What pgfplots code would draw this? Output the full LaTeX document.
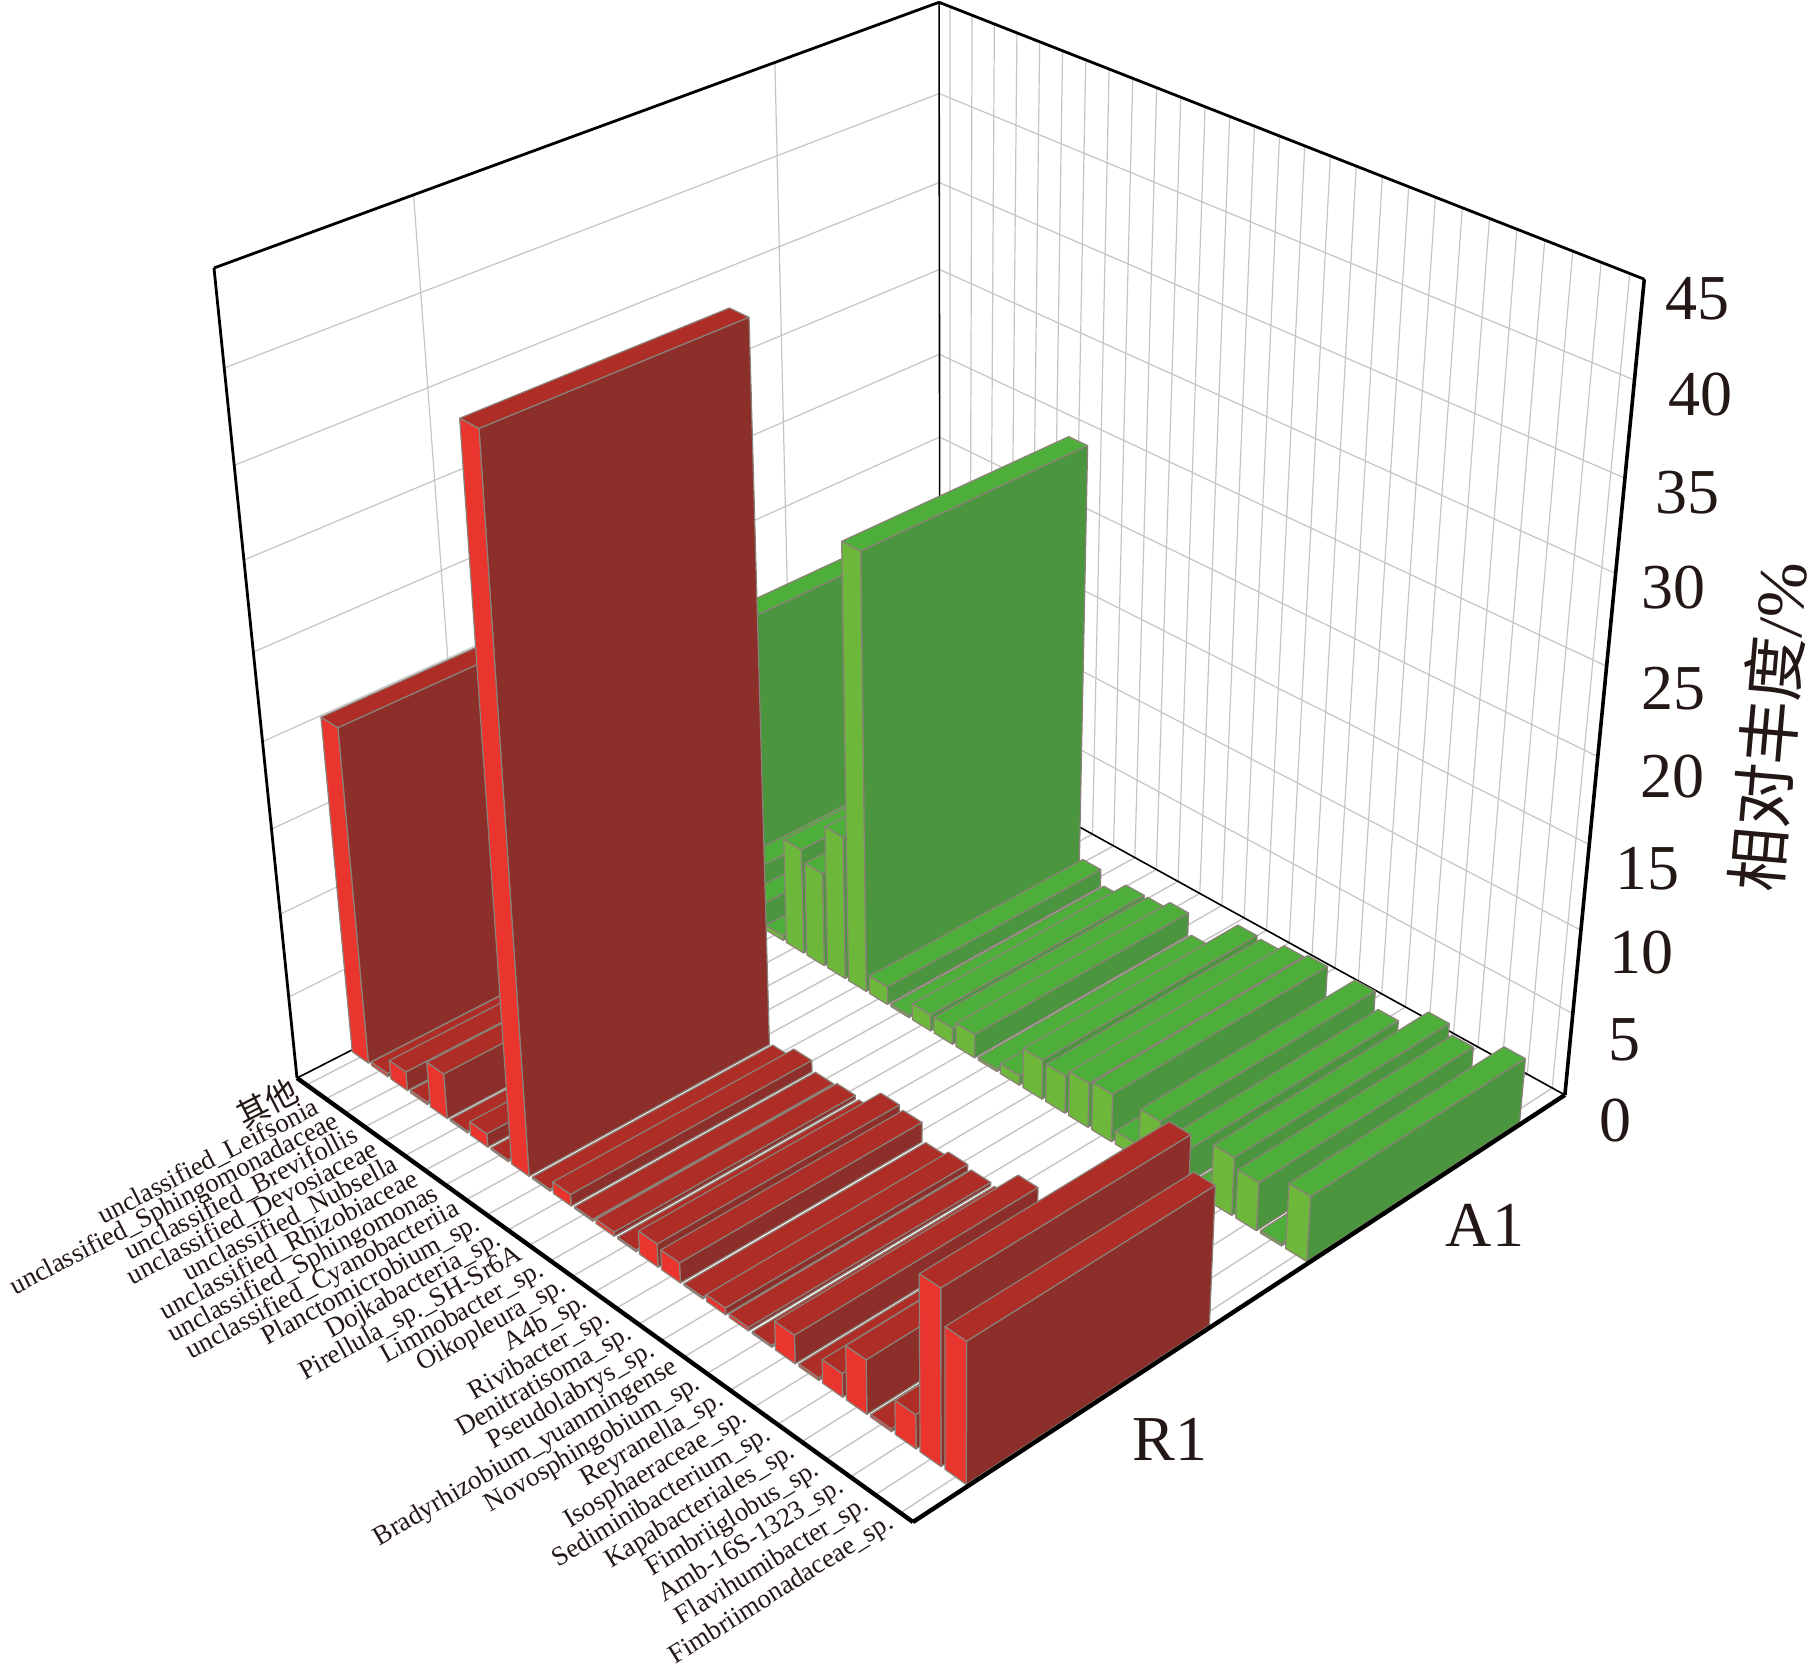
\documentclass[border=0pt]{standalone}
\usepackage{pgfplots}
\usepackage{pgfplotstable}
\usepackage{fontspec}
\pgfplotsset{compat=1.18}
\setmainfont{Liberation Serif}
\newfontfamily\cjk{Noto Sans CJK SC}
\definecolor{rf}{HTML}{EA352E}\definecolor{rs}{HTML}{8C2F2A}\definecolor{rt}{HTML}{AE2E27}
\definecolor{gf}{HTML}{6DB83B}\definecolor{gs}{HTML}{4A953E}\definecolor{gt}{HTML}{4EAE3A}
\definecolor{edgec}{HTML}{8B8178}\definecolor{gridc}{HTML}{C9C4C4}\definecolor{ink}{HTML}{231815}
% relative abundance (%) of each category in the two samples
\pgfplotstableread{
idx r1 a1
1 20.0 15.4
2 0.2 0.8
3 1.15 2.5
4 0.15 1.5
5 2.75 0.3
6 0.1 6.5
7 0.82 5.8
8 0.1 8.8
9 41.1 26.2
10 0.1 1.1
11 0.7 0.15
12 0.1 1.0
13 0.25 1.0
14 0.1 1.45
15 1.4 0.15
16 1.2 0.6
17 0.1 2.4
18 0.4 2.3
19 0.2 2.7
20 0.1 2.9
21 1.7 0.8
22 0.15 3.0
23 1.4 2.0
24 3.2 0.15
25 0.15 3.5
26 2.0 2.9
27 10.2 0.15
28 8.2 3.9
}\datatable
% perspective: u along categories (0..1), v along samples (0..1), value 0..45
\newcommand\proj[3]{%
 \pgfmathsetmacro\zf{(#3)/45}%
 \pgfmathsetmacro\ww{1-0.13212*(#1)+0.12344*(#2)-0.113*\zf}%
 \pgfmathsetmacro\px{(297+495.37*(#1)+759.03*(#2)-107.18*\zf)/\ww}%
 \pgfmathsetmacro\py{(1078+242.92*(#1)-235.42*(#2)-840.28*\zf)/\ww}}
\newcommand\vtx[4]{\proj{#2}{#3}{#4}%
 \expandafter\let\csname X#1\endcsname\px\expandafter\let\csname Y#1\endcsname\py}
\newcommand\emitquad[1]{\edef\tmp{\noexpand\addplot[fill=#1,draw=edgec,line width=0.6pt,line join=round] coordinates {(\Xa,\Ya)(\Xb,\Yb)(\Xc,\Yc)(\Xd,\Yd)} -- cycle;}\tmp}
\newcommand\seg[7]{\vtx{a}{#2}{#3}{#4}\vtx{b}{#5}{#6}{#7}%
 \edef\tmp{\noexpand\addplot[#1] coordinates {(\Xa,\Ya)(\Xb,\Yb)};}\tmp}
\newcommand\drawbar[7]{% row, column, v0, v1, top, side, front
 \pgfplotstablegetelem{#1}{#2}\of\datatable\let\hh\pgfplotsretval
 \pgfmathsetmacro\uc{(#1+0.5)/28}\pgfmathsetmacro\ua{\uc-0.015}\pgfmathsetmacro\ub{\uc+0.015}%
 \vtx{a}{\ua}{#3}{\hh}\vtx{b}{\ub}{#3}{\hh}\vtx{c}{\ub}{#4}{\hh}\vtx{d}{\ua}{#4}{\hh}%
 \emitquad{#5}%
 \vtx{a}{\ub}{#3}{0}\vtx{b}{\ub}{#4}{0}\vtx{c}{\ub}{#4}{\hh}\vtx{d}{\ub}{#3}{\hh}%
 \emitquad{#6}%
 \vtx{a}{\ua}{#3}{0}\vtx{b}{\ub}{#3}{0}\vtx{c}{\ub}{#3}{\hh}\vtx{d}{\ua}{#3}{\hh}%
 \emitquad{#7}}
\newcommand\catlabel[2]{\proj{(#1-0.5)/28}{0}{0}%
 \pgfmathsetmacro\ang{27+5*(#1-1)/27}\pgfmathsetmacro\xl{\px-5}\pgfmathsetmacro\yl{\py+14}%
 \edef\tmp{\noexpand\node[rotate=\ang,anchor=base east,text=ink,inner sep=0pt,font=\noexpand\fontsize{13.5}{14}\noexpand\selectfont] at (axis cs:\xl,\yl) {\unexpanded{#2}};}\tmp}
\begin{document}
\begin{tikzpicture}
\begin{axis}[
  width=906pt,height=838.5pt,scale only axis,
  xmin=0,xmax=1812,ymin=0,ymax=1677,y dir=reverse,
  ticks=none,axis line style={draw=none},
  axis background/.style={fill=white}]
% walls: grid
\pgfplotsforeachungrouped \zz in {5,10,...,40}{%
  \seg{draw=gridc,line width=0.6pt}{0}{0}{\zz}{0}{1}{\zz}%
  \seg{draw=gridc,line width=0.6pt}{0}{1}{\zz}{1}{1}{\zz}}
\seg{draw=gridc,line width=0.6pt}{0}{0.25}{0}{0}{0.25}{45}
\seg{draw=gridc,line width=0.6pt}{0}{0.75}{0}{0}{0.75}{45}
\pgfplotsforeachungrouped \ri in {0,...,27}{%
  \pgfmathsetmacro\uuc{(\ri+0.5)/28}%
  \seg{draw=gridc,line width=0.6pt}{\uuc}{1}{0}{\uuc}{1}{45}%
  \seg{draw=gridc,line width=0.7pt}{\uuc}{0}{0}{\uuc}{1}{0}}
% frame behind the bars
\seg{draw=black,line width=0.8pt}{0}{0}{0}{0}{1}{0}
\seg{draw=black,line width=0.8pt}{0}{1}{0}{1}{1}{0}
\seg{draw=black,line width=0.8pt}{0}{1}{0}{0}{1}{45}
\seg{draw=black,line width=1.4pt}{0}{0}{0}{0}{0}{45}
\seg{draw=black,line width=1.4pt}{0}{0}{45}{0}{1}{45}
\seg{draw=black,line width=1.4pt}{0}{1}{45}{1}{1}{45}
\seg{draw=black,line width=1.8pt}{1}{1}{0}{1}{1}{45}
% bars, far to near
\pgfplotsforeachungrouped \ri in {0,...,27}{\drawbar{\ri}{a1}{0.575}{0.925}{gt}{gs}{gf}}
\pgfplotsforeachungrouped \ri in {0,...,27}{\drawbar{\ri}{r1}{0.075}{0.425}{rt}{rs}{rf}}
\seg{draw=black,line width=2.2pt}{0}{0}{0}{1}{0}{0}
\seg{draw=black,line width=2.2pt}{1}{0}{0}{1}{1}{0}
% category labels
\catlabel{1}{{\cjk\fontsize{16}{16}\selectfont 其他}}
\catlabel{2}{unclassified\_Leifsonia}
\catlabel{3}{unclassified\_Sphingomonadaceae}
\catlabel{4}{unclassified\_Brevifollis}
\catlabel{5}{unclassified\_Devosiaceae}
\catlabel{6}{unclassified\_Nubsella}
\catlabel{7}{unclassified\_Rhizobiaceae}
\catlabel{8}{unclassified\_Sphingomonas}
\catlabel{9}{unclassified\_Cyanobacteriia}
\catlabel{10}{Planctomicrobium\_sp.}
\catlabel{11}{Dojkabacteria\_sp.}
\catlabel{12}{Pirellula\_sp.\_SH-Sr6A}
\catlabel{13}{Limnobacter\_sp.}
\catlabel{14}{Oikopleura\_sp.}
\catlabel{15}{A4b\_sp.}
\catlabel{16}{Rivibacter\_sp.}
\catlabel{17}{Denitratisoma\_sp.}
\catlabel{18}{Pseudolabrys\_sp.}
\catlabel{19}{Bradyrhizobium\_yuanmingense}
\catlabel{20}{Novosphingobium\_sp.}
\catlabel{21}{Reyranella\_sp.}
\catlabel{22}{Isosphaeraceae\_sp.}
\catlabel{23}{Sediminibacterium\_sp.}
\catlabel{24}{Kapabacteriales\_sp.}
\catlabel{25}{Fimbriiglobus\_sp.}
\catlabel{26}{Amb-16S-1323\_sp.}
\catlabel{27}{Flavihumibacter\_sp.}
\catlabel{28}{Fimbriimonadaceae\_sp.}
% value labels and sample names
\begin{scope}[every node/.style={text=ink,inner sep=0pt,font=\fontsize{32}{32}\selectfont}]
\node at (axis cs:1697,299) {45};
\node at (axis cs:1700,395) {40};
\node at (axis cs:1687,493) {35};
\node at (axis cs:1673,588) {30};
\node at (axis cs:1673,689) {25};
\node at (axis cs:1672,777) {20};
\node at (axis cs:1647,869) {15};
\node at (axis cs:1641,953) {10};
\node at (axis cs:1624,1040) {5};
\node at (axis cs:1615,1121) {0};
\node at (axis cs:1170,1439) {R1};
\node at (axis cs:1485,1225) {A1};
\node[rotate=85] at (axis cs:1769,727) {{\cjk 相对丰度}/{\fontsize{34}{34}\selectfont\%}};
\end{scope}
\end{axis}
\end{tikzpicture}
\end{document}
